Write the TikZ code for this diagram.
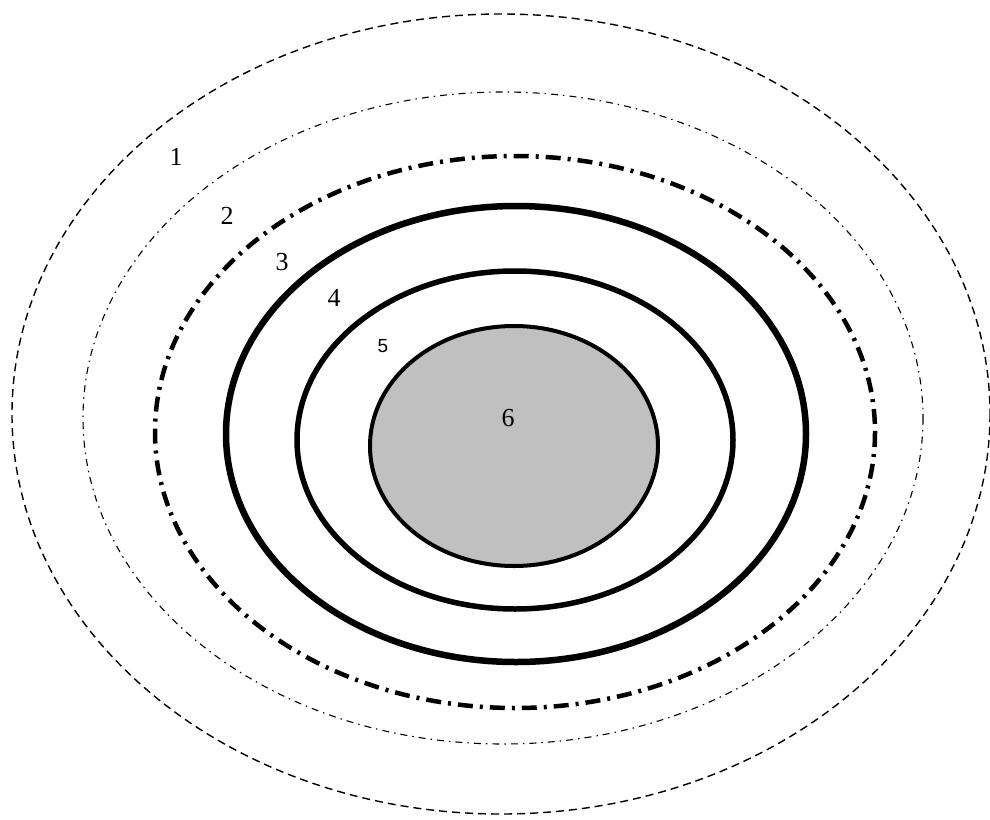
\documentclass[tikz,border=0pt]{standalone}
\usepackage{fontspec}
\setmainfont{Liberation Serif}
\newfontfamily\lsans{Liberation Sans}
\begin{document}
\begin{tikzpicture}[x=1pt,y=-1pt,
  ring/.style={draw=black},
  lab/.style={inner sep=0pt,font=\fontsize{26}{30}\selectfont}]
\useasboundingbox (0,0) rectangle (990,819);
\path[ring,line width=1.4pt,dash pattern=on 8pt off 5pt] (501,414) ellipse [x radius=489,y radius=400];
\path[ring,line width=1.1pt,dash pattern=on 7pt off 5pt on 1.5pt off 5pt] (503,418) ellipse [x radius=420,y radius=326];
\path[ring,line width=4.5pt,dash pattern=on 15pt off 7pt on 3pt off 7pt] (515,432) ellipse [x radius=360,y radius=276];
\path[ring,line width=6.5pt] (516,434) ellipse [x radius=290,y radius=228];
\path[ring,line width=5.5pt] (515,440) ellipse [x radius=218,y radius=169];
\path[ring,line width=4pt,fill={rgb,255:red,192;green,192;blue,192}] (514,446) ellipse [x radius=144,y radius=120];
\node[lab] (l1) at (176,157) {1};
\node[lab] (l2) at (227,216) {2};
\node[lab] (l3) at (282,262) {3};
\node[lab] (l4) at (334,298) {4};
\node[inner sep=0pt,font=\lsans\fontsize{19}{22}\selectfont] (l5) at (383,346) {5};
\node[lab] (l6) at (508,418) {6};
\end{tikzpicture}
\end{document}
